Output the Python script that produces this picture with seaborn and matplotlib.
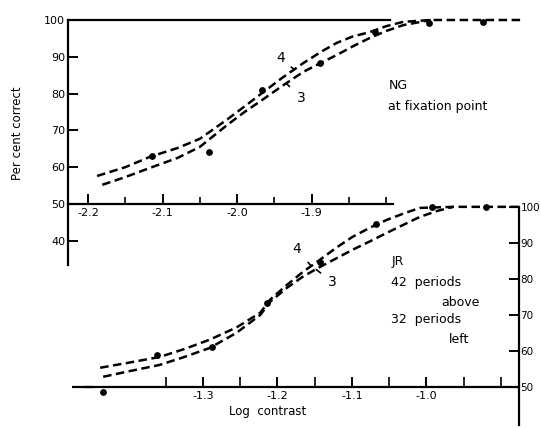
import numpy as np
import pandas as pd
import matplotlib.pyplot as plt
import seaborn as sns

# --- data ------------------------------------------------------------------

# top panel: NG, at fixation point
ng_dots_x = [-2.114, -2.038, -1.966, -1.889, -1.815, -1.742, -1.670]
ng_dots_y = [63.0, 64.1, 81.0, 88.3, 96.7, 99.3, 99.5]

ng_curve4_x = [-2.188, -2.150, -2.117, -2.080, -2.050, -2.013, -1.990, -1.966, -1.940,
               -1.911, -1.886, -1.866, -1.845, -1.822, -1.800, -1.777, -1.74, -1.70, -1.62]
ng_curve4_y = [57.6, 60.0, 62.8, 65.2, 67.7, 73.0, 76.5, 80.2, 84.2,
               88.3, 91.5, 93.8, 95.5, 96.7, 98.3, 99.5, 100, 100, 100]
ng_curve3_x = [-2.181, -2.150, -2.117, -2.080, -2.050, -2.013, -1.990, -1.966, -1.940,
               -1.911, -1.886, -1.866, -1.845, -1.822, -1.800, -1.777, -1.74]
ng_curve3_y = [55.2, 57.3, 59.8, 62.5, 65.5, 71.5, 75.0, 78.3, 82.0,
               85.9, 88.5, 90.5, 92.8, 95.1, 97.0, 98.6, 100]

# bottom panel: JR
jr_dots_x = [-1.434, -1.362, -1.288, -1.214, -1.143, -1.068, -0.993, -0.920]
jr_dots_y = [48.6, 58.9, 61.1, 73.3, 84.7, 95.3, 100, 100]

jr_curve4_x = [-1.438, -1.400, -1.358, -1.325, -1.291, -1.255, -1.223, -1.210, -1.188, -1.166,
               -1.143, -1.120, -1.099, -1.075, -1.053, -1.030, -1.009, -0.964, -0.92, -0.876]
jr_curve4_y = [55.3, 56.7, 58.3, 60.5, 63.1, 66.5, 70.6, 74.2, 78.2, 81.9,
               85.3, 88.8, 91.7, 94.3, 96.4, 98.2, 99.7, 100, 100, 100]
jr_curve3_x = [-1.434, -1.400, -1.358, -1.325, -1.291, -1.255, -1.223, -1.210, -1.188, -1.166,
               -1.143, -1.120, -1.099, -1.075, -1.053, -1.030, -1.009, -0.985, -0.964]
jr_curve3_y = [52.8, 54.3, 56.1, 58.3, 60.8, 65.0, 70.0, 73.6, 77.4, 80.6,
               83.3, 85.8, 88.1, 90.5, 92.8, 95.1, 97.2, 98.9, 100]

ng_xticks = [-2.2, -2.1, -2.0, -1.9]
ng_xticklabels = ['-2.2', '-2.1', '-2.0', '-1.9']
ng_xminor = [-2.15, -2.05, -1.95, -1.85, -1.80]
ng_yticks = [40, 50, 60, 70, 80, 90, 100]

jr_xticks = [-1.3, -1.2, -1.1, -1.0]
jr_xticklabels = ['-1.3', '-1.2', '-1.1', '-1.0']
jr_xminor = [-1.35, -1.25, -1.15, -1.05, -0.95, -0.90]
jr_yticks = [50, 60, 70, 80, 90, 100]

sns.set_style("white")
plt.rcParams['font.family'] = ['DejaVu Sans']
plt.rcParams['axes.unicode_minus'] = False
plt.rcParams['text.color'] = 'black'

DASH = (0, (3.4, 1.8))
LW = 1.8

fig = plt.figure(figsize=(5.41, 4.28), dpi=100)
ax1 = fig.add_axes([68 / 541, 1 - 265 / 428, 451 / 541, 245 / 428])
ax2 = fig.add_axes([68 / 541, 1 - 425 / 428, 451 / 541, 225 / 428])
ax2.patch.set_visible(False)


def draw_curves(ax, cx4, cy4, cx3, cy3, dx, dy):
    c4 = pd.DataFrame({'x': cx4, 'y': cy4})
    c3 = pd.DataFrame({'x': cx3, 'y': cy3})
    pts = pd.DataFrame({'x': dx, 'y': dy})
    for c in (c4, c3):
        sns.lineplot(data=c, x='x', y='y', ax=ax, sort=False, color='black',
                     lw=LW, linestyle=DASH, clip_on=False)
    sns.scatterplot(data=pts, x='x', y='y', ax=ax, color='black', s=24,
                    edgecolor='black', linewidth=0, clip_on=False, zorder=5)
    ax.set_xlabel('')
    ax.set_ylabel('')


# --- top panel --------------------------------------------------------------
draw_curves(ax1, ng_curve4_x, ng_curve4_y, ng_curve3_x, ng_curve3_y, ng_dots_x, ng_dots_y)
ax1.set_xlim(-2.227, -1.6215)
ax1.set_ylim(33.4, 100)
ax1.spines['right'].set_visible(False)
ax1.spines['top'].set_bounds(-2.227, -1.795)
ax1.spines['bottom'].set_position(('data', 50))
ax1.spines['bottom'].set_bounds(-2.227, -1.79)
for s in ax1.spines.values():
    s.set_linewidth(1.6)
    s.set_color('black')
ax1.set_xticks(ng_xticks)
ax1.set_xticklabels(ng_xticklabels)
ax1.set_xticks(ng_xminor, minor=True)
ax1.set_yticks(ng_yticks)
ax1.set_yticklabels([str(v) for v in ng_yticks])
ax1.tick_params(axis='x', which='major', bottom=True, top=False, direction='in',
                length=7, width=1.4, labelsize=8, pad=3, colors='black')
ax1.tick_params(axis='x', which='minor', bottom=True, top=False, direction='in',
                length=5, width=1.2, colors='black')
ax1.tick_params(axis='y', left=True, right=False, direction='in', length=7,
                width=1.4, labelsize=8, pad=2, colors='black')

ax1.annotate('4', xy=(-1.923, 86.5), xytext=(-1.942, 89.6), fontsize=10,
             ha='center', va='center',
             arrowprops=dict(arrowstyle='-', color='black', lw=1.2, shrinkA=3, shrinkB=0))
ax1.annotate('3', xy=(-1.933, 82.6), xytext=(-1.914, 78.8), fontsize=10,
             ha='center', va='center',
             arrowprops=dict(arrowstyle='-', color='black', lw=1.2, shrinkA=4, shrinkB=0))
ax1.text(-1.797, 82.3, 'NG', fontsize=9, ha='left', va='center')
ax1.text(-1.797, 76.4, 'at fixation point', fontsize=9, ha='left', va='center')

# --- bottom panel -----------------------------------------------------------
draw_curves(ax2, jr_curve4_x, jr_curve4_y, jr_curve3_x, jr_curve3_y, jr_dots_x, jr_dots_y)
ax2.set_xlim(-1.4812, -0.8758)
ax2.set_ylim(39.4, 101.9)
ax2.spines['left'].set_visible(False)
ax2.spines['top'].set_visible(False)
ax2.spines['right'].set_bounds(39.4, 100)
ax2.spines['bottom'].set_position(('data', 50))
ax2.spines['bottom'].set_bounds(-1.458, -0.8758)
ax2.hlines(50, -1.476, -1.447, color='black', lw=1.6)
for s in ax2.spines.values():
    s.set_linewidth(1.6)
    s.set_color('black')
ax2.yaxis.tick_right()
ax2.set_xticks(jr_xticks)
ax2.set_xticklabels(jr_xticklabels)
ax2.set_xticks(jr_xminor, minor=True)
ax2.set_yticks(jr_yticks)
ax2.set_yticklabels([str(v) for v in jr_yticks])
ax2.tick_params(axis='x', which='major', bottom=True, top=False, direction='in',
                length=7, width=1.4, labelsize=8, pad=3, colors='black')
ax2.tick_params(axis='x', which='minor', bottom=True, top=False, direction='in',
                length=7, width=1.2, colors='black')
ax2.tick_params(axis='y', right=True, left=False, direction='in', length=7,
                width=1.4, labelsize=7.5, pad=1, colors='black')

ax2.annotate('4', xy=(-1.155, 83.6), xytext=(-1.174, 88.3), fontsize=10,
             ha='center', va='center',
             arrowprops=dict(arrowstyle='-', color='black', lw=1.2, shrinkA=4, shrinkB=0))
ax2.annotate('3', xy=(-1.148, 82.6), xytext=(-1.126, 79.0), fontsize=10,
             ha='center', va='center',
             arrowprops=dict(arrowstyle='-', color='black', lw=1.2, shrinkA=4, shrinkB=0))
ax2.text(-1.047, 84.7, 'JR', fontsize=9, ha='left', va='center')
ax2.text(-1.047, 78.9, '42  periods', fontsize=9, ha='left', va='center')
ax2.text(-0.928, 73.3, 'above', fontsize=9, ha='right', va='center')
ax2.text(-1.047, 68.6, '32  periods', fontsize=9, ha='left', va='center')
ax2.text(-0.942, 63.1, 'left', fontsize=9, ha='right', va='center')

fig.text(18 / 541, 1 - 133 / 428, 'Per cent correct', rotation=90,
         fontsize=8.5, ha='center', va='center')
fig.text(268 / 541, 1 - 411 / 428, 'Log  contrast', fontsize=8.5,
         ha='center', va='center')

fig.savefig('out.png', dpi=100, facecolor='white')
